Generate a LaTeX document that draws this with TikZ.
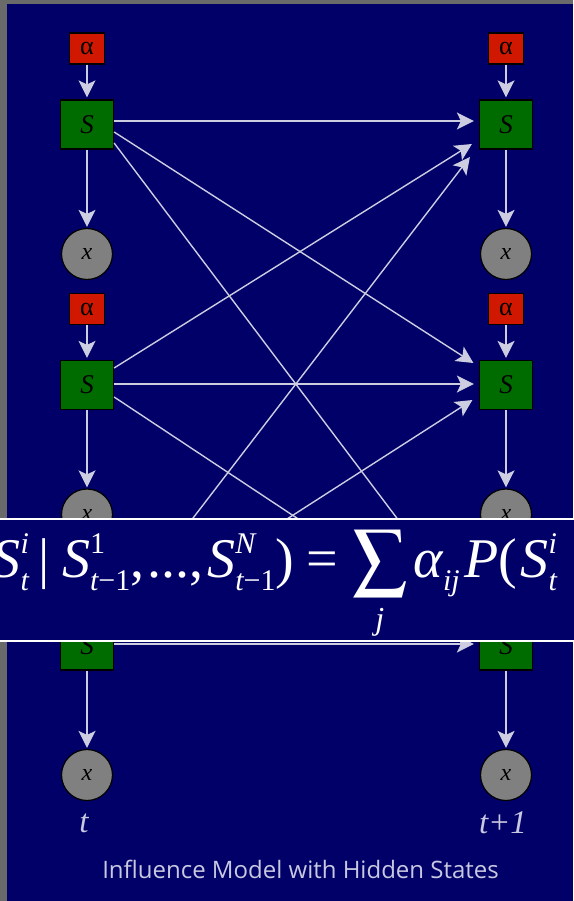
\documentclass[tikz,border=0pt]{standalone}
\usepackage{mathptmx}
\usepackage[no-math]{fontspec}
\newfontfamily\titlefont{Open Sans}
\newfontfamily\grk{Liberation Serif}
\newfontfamily\tserif{Liberation Serif}
\usetikzlibrary{arrows.meta,calc}
\definecolor{bggray}{RGB}{106,106,106}
\definecolor{navy}{RGB}{0,0,104}
\definecolor{sgreen}{RGB}{0,108,0}
\definecolor{ared}{RGB}{208,24,0}
\definecolor{ogray}{RGB}{128,128,128}
\definecolor{ecol}{RGB}{205,205,225}
\definecolor{lcol}{RGB}{200,200,225}
\newcommand\supsubx[2]{%
  \setbox1\hbox{\fontsize{30}{30}\selectfont #1}%
  \setbox2\hbox{\fontsize{30}{30}\selectfont #2}%
  \ifdim\wd1>\wd2 \dimen0=\wd1 \else \dimen0=\wd2 \fi
  \hbox to \dimen0{\rlap{\raise 24pt\box1}\lower 13pt\box2\hfil}}
\begin{document}
\begin{tikzpicture}[x=1pt,y=-1pt,
  stnode/.style={draw=black,line width=1.2pt,fill=sgreen,minimum width=53pt,minimum height=49pt,inner sep=0pt,font=\tserif\itshape\fontsize{27}{27}\selectfont},
  alnode/.style={draw=black,line width=1.2pt,fill=ared,minimum width=35pt,minimum height=31pt,inner sep=0pt,font=\grk\fontsize{26}{26}\selectfont},
  obnode/.style={circle,draw=black,line width=1.2pt,fill=ogray,minimum size=51pt,inner sep=0pt,font=\tserif\itshape\fontsize{24}{24}\selectfont},
  link/.style={draw=ecol,line width=1.4pt,-{Stealth[length=17pt,width=17pt,inset=4pt]}},
  lab/.style={text=lcol,font=\tserif\itshape\fontsize{33}{33}\selectfont,inner sep=0pt},
  formula/.style={inner sep=0pt,text=white,font=\fontsize{54}{54}\selectfont},
]
\fill[bggray] (0,0) rectangle (573,901);
\fill[navy] (7,4) rectangle (573,901);
\useasboundingbox (0,0) rectangle (573,901);

% left column
\node[alnode] (a1) at (87,48.5) {α};
\node[stnode] (s1) at (87,124.5) {S};
\node[obnode] (x1) at (87,254) {x};
\node[alnode] (a2) at (87,309) {α};
\node[stnode] (s2) at (87,385) {S};
\node[obnode] (x2) at (87,514.5) {x};
\node[alnode] (a3) at (87,569.5) {α};
\node[stnode] (s3) at (87,645.5) {S};
\node[obnode] (x3) at (87,775) {x};
% right column
\node[alnode] (b1) at (506,48.5) {α};
\node[stnode] (r1) at (506,124.5) {S};
\node[obnode] (y1) at (506,254) {x};
\node[alnode] (b2) at (506,309) {α};
\node[stnode] (r2) at (506,385) {S};
\node[obnode] (y2) at (506,514.5) {x};
\node[alnode] (b3) at (506,569.5) {α};
\node[stnode] (r3) at (506,645.5) {S};
\node[obnode] (y3) at (506,775) {x};

% vertical arrows
\foreach \i in {1,2,3}{
  \draw[link,shorten >=2pt] (a\i) -- (s\i);
  \draw[link,shorten >=1pt] (s\i) -- (x\i);
  \draw[link,shorten >=2pt] (b\i) -- (r\i);
  \draw[link,shorten >=1pt] (r\i) -- (y\i);
}

% influence arrows
\draw[link] ([yshift=3.5pt]s1.east) -- ([xshift=-5pt,yshift=3.5pt]r1.west);
\draw[link] ([yshift=-7.5pt]s1.east) -- ([xshift=-5.5pt,yshift=22pt]r2.west);
\draw[link] ([yshift=-18.5pt]s1.east) -- ([xshift=-7.5pt,yshift=28.5pt]r3.west);
\draw[link] ([yshift=17pt]s2.east) -- ([xshift=-7pt,yshift=-19.5pt]r1.west);
\draw[link] ([yshift=1pt]s2.east) -- ([xshift=-5pt,yshift=1pt]r2.west);
\draw[link] ([yshift=-12pt]s2.east) -- ([xshift=-5.5pt,yshift=10.5pt]r3.west);
\draw[link] ([yshift=24.5pt]s3.east) -- ([xshift=-9pt,yshift=-32.5pt]r1.west);
\draw[link] ([yshift=15.5pt]s3.east) -- ([xshift=-6.5pt,yshift=-15pt]r2.west);
\draw[link] ([yshift=1.5pt]s3.east) -- ([xshift=-5pt,yshift=1.5pt]r3.west);

% banner
\fill[navy] (-2,519) rectangle (575,641);
\draw[white,line width=2pt] (-2,519) -- (575,519);
\draw[white,line width=2pt] (-2,641) -- (575,641);
\begin{scope}
\clip (0,520) rectangle (573,640);
\node[formula,anchor=base east] (fl) at (338,577)
  {\tserif\fontsize{56}{56}\selectfont\itshape P\/\upshape(\itshape S\supsubx{i}{t}\hspace{10pt}\upshape|\hspace{12pt}\itshape S\supsubx{\upshape 1}{t\upshape −1}\upshape,\hspace{3pt}...,\hspace{4pt}\itshape S\supsubx{N}{t\upshape −1}\upshape)\hspace{12pt}=};
\node[formula,anchor=base west] (fr) at (352,577)
  {$\displaystyle\sum_{\mbox{\tserif\itshape\fontsize{32}{32}\selectfont j}}$\hspace{6pt}{\tserif\fontsize{56}{56}\selectfont\itshape α\supsubx{}{ij}\hspace{5pt}P\/\upshape(\hspace{3pt}\itshape S\supsubx{i}{t}\hspace{18pt}\upshape|\hspace{12pt}\itshape S\supsubx{j}{t\upshape −1}\upshape)}};
\end{scope}

% labels
\node[lab] (tl) at (84,823) {t};
\node[lab] (tr) at (503,823) {t+1};
\node[text=lcol,font=\titlefont\fontsize{24}{24}\selectfont,inner sep=0pt] (title) at (300.5,869) {Influence Model with Hidden States};
\end{tikzpicture}
\end{document}
